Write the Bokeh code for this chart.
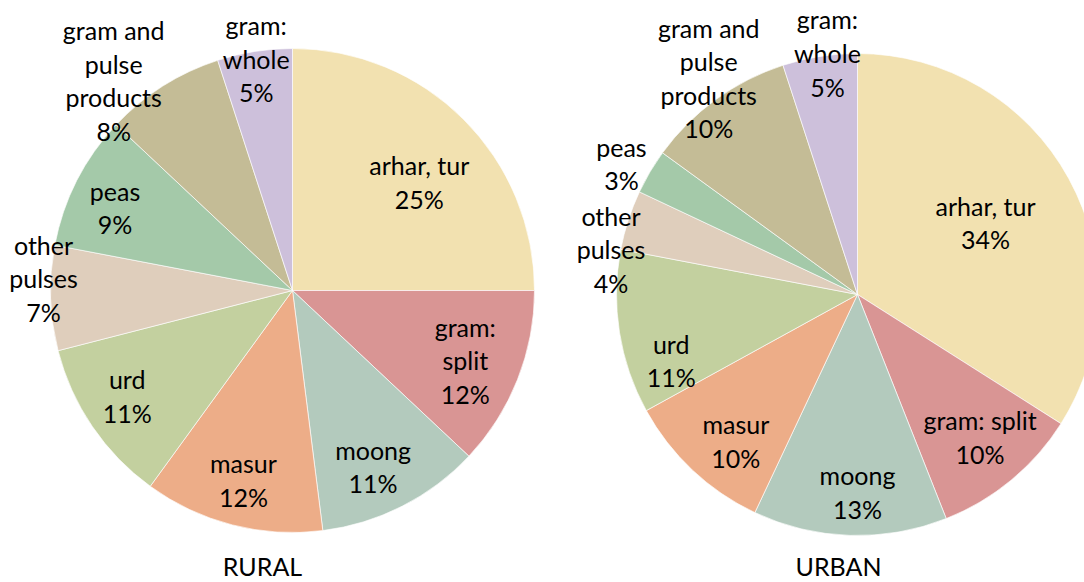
import numpy as np
from bokeh.plotting import figure
from bokeh.models import Range1d, ColumnDataSource
from bokeh.core.properties import value
from bokeh.embed import file_html
from bokeh.resources import INLINE

# ---------------- data ----------------
categories = ["arhar, tur", "gram: split", "moong", "masur", "urd",
              "other pulses", "peas", "gram and pulse products", "gram: whole"]
rural_values = [25, 12, 11, 12, 11, 7, 9, 8, 5]
urban_values = [34, 10, 13, 10, 11, 4, 3, 10, 5]
rural_names = ["arhar, tur", "gram:\nsplit", "moong", "masur", "urd",
               "other\npulses", "peas", "gram and\npulse\nproducts", "gram:\nwhole"]
urban_names = ["arhar, tur", "gram: split", "moong", "masur", "urd",
               "other\npulses", "peas", "gram and\npulse\nproducts", "gram:\nwhole"]
titles = ["RURAL", "URBAN"]

# ---------------- styles / layout ----------------
colors = ["#F2E1B0", "#D99594", "#B3CABD", "#EDAD88", "#C3D09F",
          "#DFCEBC", "#A4C9A9", "#C4BC96", "#CDC0DB"]
W, H = 1084, 582
pies = [
    dict(cx=292, cy=290, r=242, values=rural_values, names=rural_names,
         lab_ang=[49.4, 112, 155.4, 194.5, 237.5, 272.8, 295.1, 319.6, 351.1],
         lab_dist=[0.69, 0.77, 0.80, 0.81, 0.81, 1.03, 0.81, 1.14, 0.97],
         title=titles[0], tx=262),
    dict(cx=857, cy=294, r=241, values=urban_values, names=urban_names,
         lab_ang=[60.6, 139.3, 180, 219.7, 250.5, 280.4, 299, 325.5, 352.9],
         lab_dist=[0.61, 0.78, 0.82, 0.79, 0.82, 1.04, 1.12, 1.09, 1.01],
         title=titles[1], tx=838),
]

p = figure(width=W, height=H, x_range=Range1d(0, W), y_range=Range1d(0, H),
           output_backend="svg", toolbar_location=None, min_border=0)
p.axis.visible = False
p.grid.visible = False
p.outline_line_color = None
p.background_fill_color = "white"
p.border_fill_color = "white"

FONT = value("Lato")
for pie in pies:
    vals = np.array(pie["values"], dtype=float)
    frac = vals / vals.sum()
    c1 = np.cumsum(frac)
    c0 = c1 - frac
    src = ColumnDataSource(dict(
        x=[pie["cx"]] * len(vals), y=[H - pie["cy"]] * len(vals),
        start=np.pi / 2 - 2 * np.pi * c0, end=np.pi / 2 - 2 * np.pi * c1,
        color=colors, cat=categories))
    p.wedge(x="x", y="y", radius=pie["r"], start_angle="start", end_angle="end",
            direction="clock", fill_color="color", line_color="white",
            line_width=0.8, line_alpha=0.8, source=src)

    ang = np.radians(pie["lab_ang"])
    d = np.array(pie["lab_dist"]) * pie["r"]
    lx = pie["cx"] + d * np.sin(ang)
    ly = (H - pie["cy"]) + d * np.cos(ang)
    texts = [f"{n}\n{v}%" for n, v in zip(pie["names"], pie["values"])]
    p.text(x=lx, y=ly, text=texts, text_font=FONT, text_font_size="25px",
           text_align="center", text_baseline="middle", text_line_height=1.12,
           text_color="black")
    p.text(x=[pie["tx"]], y=[H - 580], text=[pie["title"]], text_font=FONT,
           text_font_size="25px", text_align="center", text_baseline="bottom",
           text_color="black")

open("out.html", "w").write(file_html(p, INLINE))
